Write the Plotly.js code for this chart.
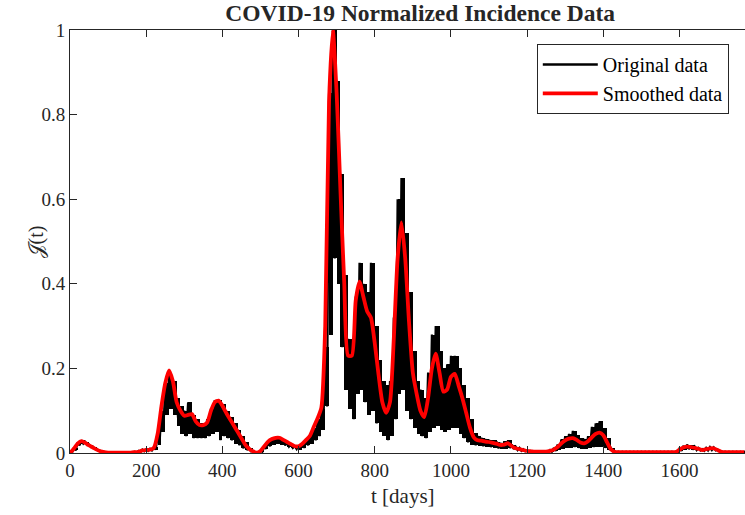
<!DOCTYPE html>
<html>
<head>
<meta charset="utf-8">
<script src="https://cdn.plot.ly/plotly-3.0.1.min.js"></script>
<style>html,body{margin:0;padding:0;background:#fff;}#chart{width:745px;height:515px;}</style>
</head>
<body>
<div id="chart"></div>
<script>
// Sampling of the series: one value every STEP days, starting at day 0
const STEP = 10;

// Smoothed data (red), days 0,10,...,1770
const smoothed = [
  0, .01, .022, .028, .024, .018, .013, .008, .004, .002,
  .001, .001, .001, .001, .001, .001, .001, .002, .003, .006,
  .007, .008, .012, .045, .11, .165, .195, .17, .12, .1,
  .088, .09, .092, .075, .066, .066, .072, .1, .12, .124,
  .112, .095, .08, .065, .05, .035, .02, .01, .004, .001,
  .005, .016, .027, .033, .036, .036, .031, .026, .021, .016,
  .016, .022, .031, .041, .062, .082, .108, .3, .83, 1.0,
  .85, .62, .4, .23, .23, .36, .405, .37, .335, .32,
  .26, .185, .12, .095, .12, .27, .46, .545, .46, .31,
  .19, .14, .1, .085, .13, .2, .235, .19, .145, .15,
  .18, .187, .16, .13, .095, .06, .037, .03, .029, .027,
  .026, .024, .022, .019, .02, .023, .016, .011, .009, .007,
  .005, .004, .003, .003, .003, .003, .005, .008, .014, .023,
  .03, .034, .035, .031, .025, .023, .028, .037, .045, .048,
  .042, .025, .009, .003, .002, .002, .002, .002, .002, .002,
  .002, .002, .002, .002, .002, .002, .002, .002, .002, .002,
  .008, .013, .015, .014, .012, .01, .007, .009, .011, .011,
  .007, .003, .002, .002, .002, .002, .002, .002
];

// Original daily data (black): weekly-oscillation high values, days 0,10,...,1770
const originalHigh = [
  0, .012, .025, .03, .026, .02, .015, .01, .005, .003,
  .002, .002, .002, .002, .002, .002, .002, .003, .005, .008,
  .009, .01, .014, .04, .1, .165, .185, .17, .13, .11,
  .1, .12, .09, .08, .07, .07, .08, .105, .125, .125,
  .115, .1, .085, .07, .055, .04, .025, .012, .005, .002,
  .005, .015, .026, .032, .035, .035, .03, .026, .02, .016,
  .017, .022, .03, .04, .06, .08, .105, .25, .85, 1.0,
  .88, .66, .42, .27, .25, .37, .45, .4, .38, .45,
  .3, .22, .17, .16, .17, .32, .6, .65, .52, .38,
  .24, .17, .15, .13, .19, .28, .3, .24, .2, .21,
  .23, .23, .2, .16, .13, .08, .047, .04, .036, .033,
  .031, .03, .027, .024, .028, .03, .02, .015, .012, .009,
  .007, .005, .004, .004, .004, .004, .007, .012, .02, .032,
  .04, .045, .052, .042, .035, .033, .04, .062, .07, .075,
  .058, .035, .012, .004, .003, .003, .003, .003, .003, .003,
  .003, .003, .003, .003, .003, .003, .003, .003, .003, .003,
  .012, .017, .02, .018, .015, .012, .009, .012, .014, .013,
  .008, .004, .003, .003, .003, .003, .003, .003
];

// Original daily data (black): weekly-oscillation low values, days 5,15,...,1775
const originalLow = [
  0, .006, .018, .022, .019, .014, .01, .006, .003, .001,
  .001, .001, .001, .001, .001, .001, .001, .001, .002, .004,
  .005, .006, .008, .02, .05, .09, .105, .09, .065, .045,
  .04, .045, .035, .035, .035, .035, .04, .045, .05, .03,
  .04, .035, .03, .022, .018, .011, .007, .004, .002, .001,
  .003, .01, .016, .02, .022, .02, .018, .015, .012, .009,
  .008, .012, .018, .022, .03, .04, .055, .11, .28, .46,
  .4, .25, .15, .105, .08, .14, .15, .12, .09, .1,
  .07, .05, .04, .03, .04, .08, .14, .15, .1, .08,
  .06, .045, .04, .035, .05, .06, .065, .055, .05, .055,
  .06, .06, .045, .035, .025, .02, .018, .017, .016, .015,
  .014, .013, .011, .01, .01, .012, .009, .007, .005, .004,
  .003, .002, .002, .002, .002, .002, .003, .005, .008, .01,
  .012, .013, .014, .012, .01, .01, .012, .014, .015, .015,
  .012, .008, .004, .002, .001, .001, .001, .001, .001, .001,
  .001, .001, .001, .001, .001, .001, .001, .001, .001, .001,
  .005, .008, .009, .008, .007, .006, .005, .006, .007, .006,
  .004, .002, .001, .001, .001, .001, .001, .001
];

const seriesNames = ['Original data', 'Smoothed data'];
const seriesColors = ['#000000', '#ff0000'];
const xTicks = [0, 200, 400, 600, 800, 1000, 1200, 1400, 1600];
const yTicks = [0, 0.2, 0.4, 0.6, 0.8, 1];
const yTickText = ['0', '0.2', '0.4', '0.6', '0.8', '1'];

const days = smoothed.map((_, i) => i * STEP);
const lowDays = days.map(d => d + STEP / 2);
const origX = [], origY = [];
for (let i = 0; i < originalHigh.length; i++) {
  origX.push(days[i]); origY.push(originalHigh[i]);
  origX.push(lowDays[i]); origY.push(originalLow[i]);
}
// spread of the daily oscillation within each sampling step (high minus low)
const spread = originalHigh.map((h, i) => Math.max(h - originalLow[i], 0));

const FONT = 'Liberation Serif, DejaVu Serif, serif';
const AX = '#262626';

const traces = [
  // legend entries (no data of their own)
  {x: [null], y: [null], type: 'scatter', mode: 'lines', name: seriesNames[0],
   line: {color: seriesColors[0], width: 2.5}},
  {x: [null], y: [null], type: 'scatter', mode: 'lines', name: seriesNames[1],
   line: {color: seriesColors[1], width: 3.8}},
  // solid band between the weekly lows and highs
  {x: lowDays, y: spread, base: originalLow, type: 'bar', width: STEP, showlegend: false,
   hoverinfo: 'skip', marker: {color: seriesColors[0], line: {width: 0}}},
  {x: origX, y: origY, type: 'scatter', mode: 'lines', name: seriesNames[0], showlegend: false,
   line: {color: seriesColors[0], width: 2.2}},
  {x: days, y: smoothed, type: 'scatter', mode: 'lines', name: seriesNames[1], showlegend: false,
   line: {color: seriesColors[1], width: 3.8, shape: 'spline', smoothing: 0.6}}
];

const axisCommon = {
  showline: true, linecolor: AX, linewidth: 1, ticks: 'inside', ticklen: 7,
  tickcolor: AX, tickwidth: 1, showgrid: false, zeroline: false,
  tickfont: {family: FONT, size: 19, color: AX}
};

const layout = {
  width: 745, height: 515,
  margin: {l: 70, r: 0, t: 30, b: 62},
  paper_bgcolor: '#ffffff', plot_bgcolor: '#ffffff',
  showlegend: true, barmode: 'overlay', bargap: 0,
  title: {text: '<b>COVID-19 Normalized Incidence Data</b>', xref: 'container', yref: 'container',
          x: 0.564, y: 0.975, xanchor: 'center', yanchor: 'middle',
          font: {family: FONT, size: 23.5, color: AX}},
  xaxis: Object.assign({}, axisCommon, {range: [0, 1772], tickvals: xTicks, mirror: 'ticks'}),
  yaxis: Object.assign({}, axisCommon, {range: [0, 1], tickvals: yTicks, ticktext: yTickText, mirror: false}),
  legend: {x: 0.976, y: 0.967, xanchor: 'right', yanchor: 'top', bgcolor: '#ffffff',
           bordercolor: AX, borderwidth: 1, font: {family: FONT, size: 20, color: '#000'},
           itemwidth: 55, traceorder: 'normal'},
  annotations: [
    {text: '𝒥(t)', xref: 'paper', yref: 'paper', x: -0.049, y: 0.5, showarrow: false,
     textangle: -90, xanchor: 'center', yanchor: 'middle', font: {family: FONT, size: 20, color: AX}},
    {text: 't [days]', xref: 'paper', yref: 'paper', x: 0.493, y: -0.102, showarrow: false,
     xanchor: 'center', yanchor: 'middle', font: {family: FONT, size: 21, color: AX}}
  ]
};

Plotly.newPlot('chart', traces, layout, {displayModeBar: false, staticPlot: true});
</script>
</body>
</html>
